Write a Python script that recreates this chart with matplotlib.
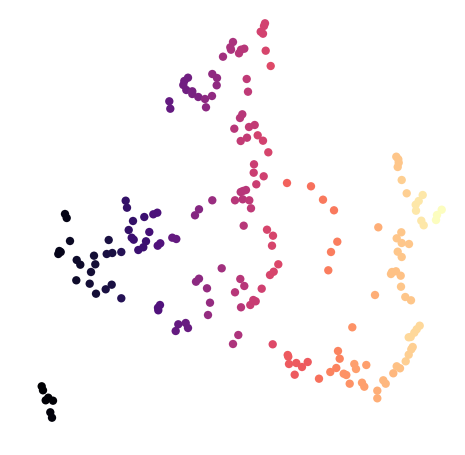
import matplotlib
matplotlib.use('agg')  # no display
import matplotlib.pyplot as plt

# +--------------+
# | Scatter Data |
# +--------------+
# horizontal / vertical position of each sample (picture units, y grows downward)
pos_x = [
  41.7, 43.0, 45.7, 48.3, 53.0, 50.3, 52.0,
  65.0, 66.7, 59.3, 58.3, 60.7, 70.0, 76.7, 80.3, 76.3,
  94.0, 95.3, 91.0, 89.7, 96.0, 106.7, 112.3, 108.7, 105.7, 111.7,
  121.3, 121.3, 125.7, 127.0, 133.0, 128.7, 131.7, 133.7, 138.3, 143.3,
  144.3, 146.0, 149.3, 153.3, 157.3, 157.7, 160.3, 158.0, 160.0, 158.3,
  172.3, 176.3, 169.3, 170.3, 178.3, 185.7, 188.0, 175.7,
  188.0, 184.3, 183.3, 186.3, 192.3, 192.3, 198.3, 195.0, 199.0,
  196.0, 199.0, 205.0, 206.0, 212.0, 212.3, 217.0, 216.7,
  207.0, 210.0, 208.0, 212.3, 221.7, 223.0,
  233.0, 230.3, 231.0, 239.0, 241.0, 244.3, 233.0, 238.3,
  235.0, 241.0, 240.3, 244.3, 235.0, 240.7, 243.0, 246.0, 242.7, 243.7,
  234.3, 240.0, 242.3, 246.7, 248.0, 249.3, 251.0,
  247.0, 240.7, 249.0, 254.7, 250.3, 253.3, 255.7,
  254.0, 253.7, 256.3, 263.7, 257.7, 263.0, 268.3, 261.7,
  260.7, 263.0, 264.0, 265.0, 265.7, 270.7,
  267.0, 273.0, 272.0, 270.0, 273.7, 278.3, 272.7,
  287.7, 288.3, 289.0, 294.7, 296.3, 302.0, 307.7,
  287.0, 311.0, 319.0, 323.0, 334.0, 328.3, 331.0, 337.3,
  330.3, 336.3, 338.0, 339.7, 343.7, 346.3, 349.7, 352.3,
  354.3, 356.0, 362.0, 364.3, 366.3, 375.0, 377.3, 377.3, 378.3,
  383.3, 385.7, 393.3, 391.0, 392.0, 396.0, 400.7, 396.7, 400.0,
  396.3, 398.3, 398.7, 397.7,
  396.7, 401.3, 401.7, 409.0, 397.7, 401.7, 401.0, 405.3, 411.0,
  401.7, 406.7, 405.7, 408.7, 411.3, 412.7,
  408.7, 410.7, 414.3, 416.7, 419.7,
  415.7, 416.0, 418.7, 422.7, 421.3, 423.7, 436.0, 437.0, 441.7,
]
pos_y = [
  386.3, 390.3, 400.3, 397.7, 400.7, 412.3, 417.7,
  214.0, 218.0, 251.0, 254.0, 252.0, 241.0, 260.0, 264.7, 280.3,
  255.7, 264.3, 272.0, 283.7, 293.7, 254.0, 253.0, 240.0, 289.3, 284.7,
  252.0, 298.3, 200.7, 207.7, 221.0, 230.0, 237.7, 239.7, 250.0, 247.3,
  217.0, 241.3, 232.0, 214.3, 212.7, 245.7, 243.3, 307.7, 305.0, 310.3,
  237.7, 239.0, 101.3, 108.7, 324.3, 323.0, 328.0, 331.0,
  77.7, 81.0, 85.0, 90.0, 91.3, 94.0, 97.0, 215.3, 209.3,
  281.7, 278.7, 99.0, 107.3, 96.0, 74.0, 78.0, 85.3,
  288.3, 302.7, 315.0, 200.3, 268.3, 56.7,
  42.0, 47.3, 49.7, 53.3, 49.7, 48.7, 344.0, 335.0,
  292.3, 307.3, 279.0, 286.0, 200.3, 192.0, 191.0, 190.0, 199.3, 225.7,
  128.7, 118.0, 114.3, 79.0, 91.7, 200.3, 208.3,
  137.7, 141.0, 127.0, 125.0, 305.0, 300.0, 301.3,
  164.3, 172.7, 184.3, 176.3, 135.3, 140.7, 152.3, 288.7,
  31.7, 33.7, 26.0, 23.3, 50.7, 66.0,
  229.7, 235.7, 245.7, 275.0, 271.7, 264.3, 344.3,
  355.0, 356.7, 364.0, 374.7, 363.0, 367.0, 362.0,
  183.0, 186.3, 378.7, 199.7, 210.3, 270.3, 252.0, 241.7,
  372.0, 368.0, 351.0, 358.7, 373.7, 375.0, 383.7, 327.3,
  364.0, 369.0, 382.7, 386.7, 365.0, 295.0, 390.7, 398.3, 227.3,
  380.3, 383.7, 373.3, 274.0, 272.0, 271.3, 275.7, 366.3, 368.3,
  156.7, 159.3, 162.7, 167.0,
  238.3, 232.3, 243.0, 244.0, 251.7, 257.0, 286.7, 297.0, 300.3,
  180.0, 193.3, 361.3, 354.7, 349.3, 347.0,
  337.3, 337.0, 332.7, 329.3, 325.7,
  204.7, 210.7, 201.0, 195.0, 220.7, 225.3, 220.0, 215.0, 209.7,
]
# colour value of each sample (0 -> 1 on magma)
hue = [
  0.00, 0.00, 0.01, 0.01, 0.01, 0.02, 0.02,
  0.04, 0.04, 0.05, 0.05, 0.05, 0.07, 0.08, 0.08, 0.08,
  0.10, 0.10, 0.10, 0.10, 0.10, 0.12, 0.12, 0.12, 0.12, 0.12,
  0.15, 0.15, 0.18, 0.18, 0.18, 0.18, 0.20, 0.20, 0.20, 0.20,
  0.20, 0.20, 0.22, 0.24, 0.24, 0.25, 0.25, 0.25, 0.25, 0.25,
  0.30, 0.30, 0.30, 0.30, 0.30, 0.31, 0.31, 0.30,
  0.33, 0.33, 0.33, 0.33, 0.35, 0.35, 0.36, 0.38, 0.38,
  0.40, 0.40, 0.40, 0.40, 0.41, 0.41, 0.41, 0.41,
  0.42, 0.42, 0.42, 0.43, 0.45, 0.45,
  0.47, 0.47, 0.47, 0.50, 0.50, 0.50, 0.48, 0.48,
  0.50, 0.50, 0.50, 0.50, 0.50, 0.50, 0.50, 0.50, 0.50, 0.50,
  0.50, 0.50, 0.50, 0.52, 0.52, 0.52, 0.52,
  0.53, 0.53, 0.53, 0.53, 0.54, 0.54, 0.54,
  0.55, 0.55, 0.55, 0.56, 0.57, 0.57, 0.58, 0.56,
  0.57, 0.57, 0.57, 0.57, 0.58, 0.60,
  0.58, 0.58, 0.58, 0.58, 0.58, 0.59, 0.60,
  0.65, 0.65, 0.65, 0.65, 0.65, 0.65, 0.65,
  0.67, 0.70, 0.70, 0.72, 0.72, 0.73, 0.73, 0.73,
  0.74, 0.74, 0.74, 0.74, 0.77, 0.77, 0.77, 0.77,
  0.80, 0.80, 0.80, 0.80, 0.80, 0.83, 0.83, 0.83, 0.83,
  0.85, 0.85, 0.85, 0.87, 0.87, 0.87, 0.87, 0.87, 0.87,
  0.88, 0.88, 0.88, 0.88,
  0.88, 0.88, 0.88, 0.88, 0.88, 0.88, 0.88, 0.88, 0.88,
  0.90, 0.90, 0.90, 0.90, 0.90, 0.90,
  0.92, 0.92, 0.92, 0.92, 0.92,
  0.95, 0.95, 0.95, 0.95, 0.95, 0.95, 1.00, 1.00, 1.00,
]

# +--------------+
# | Scatter Plot |
# +--------------+
fig = plt.figure(figsize=(4.65, 4.55), dpi=100)
ax = fig.add_axes([0, 0, 1, 1])
ax.scatter(pos_x, pos_y, c=hue, cmap='magma', vmin=0.0, vmax=1.0,
           s=36, linewidths=0)
ax.set_xlim(0, 465)
ax.set_ylim(455, 0)
ax.axis('off')
fig.savefig('out.png', dpi=100)
